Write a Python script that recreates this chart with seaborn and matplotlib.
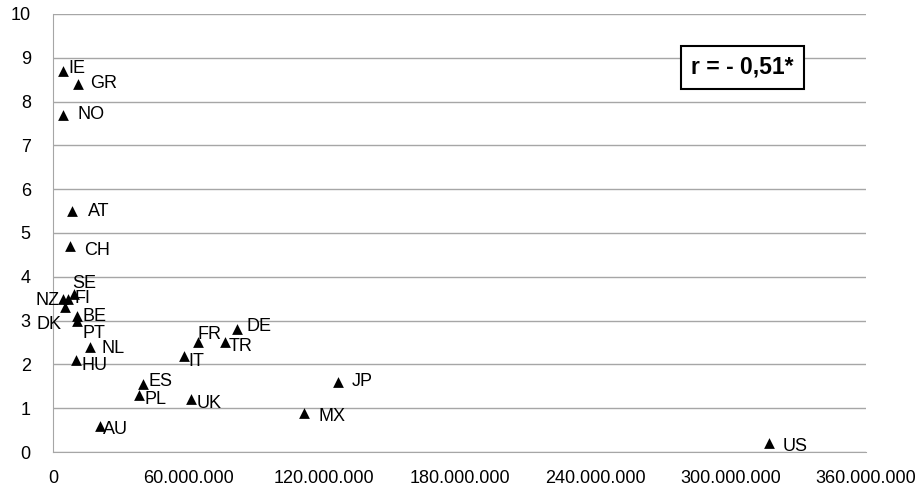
import seaborn as sns
import matplotlib.pyplot as plt
import pandas as pd
from matplotlib.ticker import FuncFormatter

# values
countries = ["IE", "GR", "NO", "AT", "CH", "SE", "NZ", "FI", "DK", "BE", "PT", "NL", "HU",
             "ES", "PL", "UK", "AU", "IT", "FR", "TR", "DE", "JP", "MX", "US"]
population = [4.4, 11.0, 4.6, 8.3, 7.7, 9.2, 4.3, 6.5, 5.5, 10.7, 10.6, 16.5, 10.0,
              40.0, 38.0, 61.0, 21.0, 58.0, 64.0, 76.0, 81.5, 126.0, 111.0, 317.0]
rate = [8.7, 8.4, 7.7, 5.5, 4.7, 3.6, 3.5, 3.5, 3.3, 3.1, 3.0, 2.4, 2.1,
        1.55, 1.3, 1.2, 0.6, 2.2, 2.5, 2.5, 2.8, 1.6, 0.9, 0.2]
x_ticks = [0, 60e6, 120e6, 180e6, 240e6, 300e6, 360e6]

df = pd.DataFrame({"country": countries,
                   "pop": [p * 1e6 for p in population],
                   "rate": rate})

# label offsets in points (dx, dy, ha)
offsets = {
    "IE": (4, 2, "left"), "GR": (9, 0, "left"), "NO": (10, 0, "left"),
    "AT": (12, 0, "left"), "CH": (10, -3, "left"), "SE": (-1, 8, "left"),
    "NZ": (-2, -1, "right"), "FI": (5, 0, "left"), "DK": (-3, -12, "right"),
    "BE": (4, 0, "left"), "PT": (4, -9, "left"), "NL": (8, -1, "left"),
    "HU": (4, -4, "left"), "ES": (4, 2, "left"), "PL": (4, -3, "left"),
    "UK": (4, -3, "left"), "AU": (2, -3, "left"), "IT": (3, -4, "left"),
    "FR": (0, 6, "left"), "TR": (3, -3, "left"), "DE": (7, 2, "left"),
    "JP": (10, 0, "left"), "MX": (11, -3, "left"), "US": (10, -2, "left"),
}

plt.rcParams["font.family"] = ["Liberation Sans", "DejaVu Sans"]
fig = plt.figure(figsize=(9.2, 4.96), dpi=100)
ax = fig.add_axes([0.0576, 0.0887, 0.8837, 0.8833])

sns.scatterplot(data=df, x="pop", y="rate", marker="^", color="black",
                s=60, edgecolor="black", linewidth=0, ax=ax, zorder=3)

for _, row in df.iterrows():
    dx, dy, ha = offsets[row["country"]]
    ax.annotate(row["country"], (row["pop"], row["rate"]), xytext=(dx, dy),
                textcoords="offset points", ha=ha, va="center", fontsize=13,
                zorder=4)

ax.set_xlim(0, 360e6)
ax.set_ylim(0, 10)
ax.set_xticks(x_ticks)
ax.xaxis.set_major_formatter(FuncFormatter(lambda v, p: f"{int(v):,}".replace(",", ".")))
ax.set_yticks(range(0, 11))
ax.yaxis.grid(True, color="#a6a6a6", linewidth=1)
ax.set_axisbelow(True)
ax.tick_params(axis="both", length=0, labelsize=13)
ax.tick_params(axis="x", pad=13)
ax.tick_params(axis="y", pad=16)
for s in ["top", "right"]:
    ax.spines[s].set_visible(False)
ax.spines["left"].set_color("#a6a6a6")
ax.spines["bottom"].set_color("#a6a6a6")
ax.set_xlabel("")
ax.set_ylabel("")

ax.text(0.848, 0.878, "r = - 0,51*", transform=ax.transAxes, ha="center",
        va="center", fontsize=16.5, fontweight="bold",
        bbox=dict(boxstyle="square,pad=0.45", facecolor="white",
                  edgecolor="black", linewidth=1.5))

fig.savefig("out.png", dpi=100)
